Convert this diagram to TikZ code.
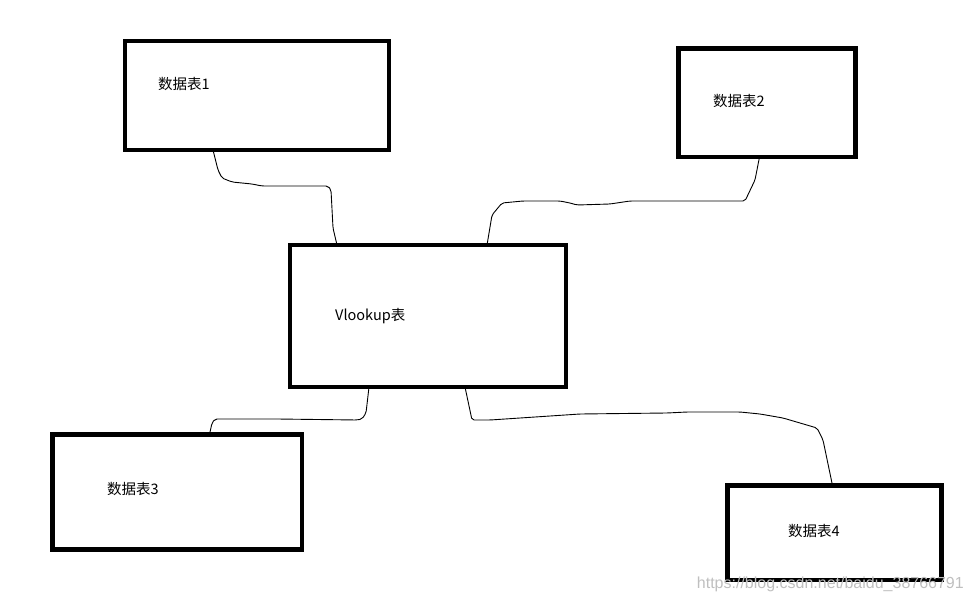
\documentclass[tikz,border=0pt]{standalone}
\usepackage{fontspec}
\setmainfont{Noto Sans CJK SC}
\newfontfamily\wmfont{Liberation Sans}

\begin{document}
\begin{tikzpicture}[x=1pt,y=-1pt,
    tbl/.style={draw,line width=4.5pt,rectangle,outer sep=0pt,inner sep=0pt},
    lbl/.style={anchor=west,inner sep=0pt,font=\fontsize{14.5}{17}\selectfont},
    wire/.style={line width=0.9pt,rounded corners=2pt}]
  \useasboundingbox (0,0) rectangle (972,604);

  \node[tbl,minimum width=264pt,minimum height=109pt] (t1) at (257,95.5) {};
  \node[tbl,minimum width=177pt,minimum height=108.5pt] (t2) at (767,102.75) {};
  \node[tbl,minimum width=276pt,minimum height=142pt] (vl) at (428,316) {};
  \node[tbl,minimum width=249.5pt,minimum height=115pt] (t3) at (177.25,492) {};
  \node[tbl,minimum width=214pt,minimum height=94.5pt] (t4) at (834.5,532.75) {};

  \node[lbl] (l1) at (158,84) {数据表1};
  \node[lbl] (l2) at (713,101) {数据表2};
  \node[lbl] (lv) at (335,316) {Vlookup表};
  \node[lbl] (l3) at (107,489) {数据表3};
  \node[lbl] (l4) at (788,531) {数据表4};

  \draw[wire] ([xshift=88pt]t1.south west) -- (218,170) -- (222,178) -- (232,182)
    -- (252,184) -- (262,186) -- (328,186) -- (331,190) -- (333,228)
    -- ([xshift=47pt]vl.north west);
  \draw[wire] ([xshift=81pt]t2.south west) -- (755,180) -- (745,201) -- (630,201)
    -- (610,204) -- (577,205) -- (570,203) -- (560,201) -- (523,201)
    -- (502,203) -- (492,215) -- ([xshift=197pt]vl.north west);
  \draw[wire] ([xshift=79pt]vl.south west) -- (366,413) -- (362,419) -- (357,420)
    -- (277,419) -- (215,419) -- (212,423) -- ([xshift=157pt]t3.north west);
  \draw[wire] ([xshift=175pt]vl.south west) -- (472,420) -- (490,420) -- (580,414)
    -- (667,413) -- (687,412) -- (740,412) -- (760,414) -- (783,418)
    -- (817,428) -- (823,440) -- ([xshift=105pt]t4.north west);

  \node[anchor=east,inner sep=0pt,text=black!25,font=\wmfont\fontsize{16}{18}\selectfont] (wm) at (964,584) {https://blog.csdn.net/baidu\_38766791};
\end{tikzpicture}
\end{document}
